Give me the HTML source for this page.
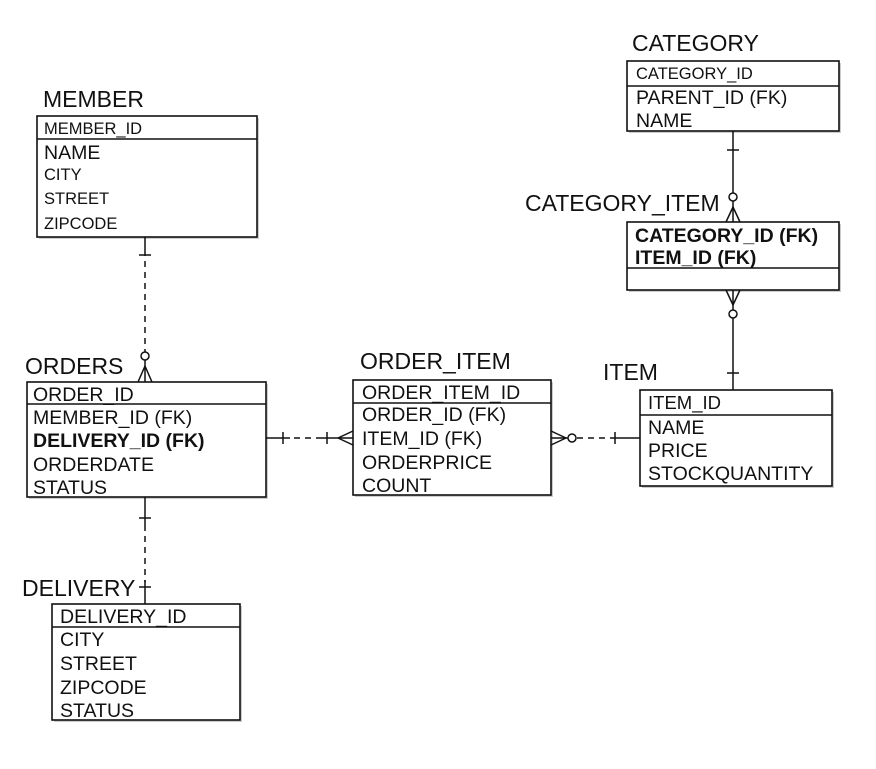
<!DOCTYPE html>
<html><head><meta charset="utf-8"><style>
html,body{margin:0;padding:0;background:#fff;}
svg{display:block;}
text{font-family:"Liberation Sans",Arial,sans-serif;fill:#111;}
.t{font-size:23px;}
.r{font-size:19.5px;}
.s{font-size:16.5px;}
.b{font-size:19.5px;font-weight:bold;}
.box{fill:#fff;stroke:#111;stroke-width:1.6;}
.ln{stroke:#111;stroke-width:1.5;fill:none;}
.d{stroke:#111;stroke-width:1.5;fill:none;stroke-dasharray:6,5;}
.sh{fill:#ccc;}
</style></head><body>
<svg width="876" height="769" viewBox="0 0 876 769">
<rect class="sh" x="39" y="118" width="220" height="121"/>
<rect class="sh" x="29" y="384" width="239" height="115"/>
<rect class="sh" x="54" y="606" width="188" height="116"/>
<rect class="sh" x="355" y="382" width="198" height="115"/>
<rect class="sh" x="642" y="392" width="192" height="96"/>
<rect class="sh" x="629" y="63" width="212" height="70"/>
<rect class="sh" x="629" y="224" width="212" height="68"/>

<text class="t" x="43" y="107">MEMBER</text>
<rect class="box" x="37" y="116" width="220" height="121"/>
<line class="ln" x1="37" y1="139" x2="257" y2="139"/>
<text class="s" x="44" y="134">MEMBER_ID</text>
<text class="r" x="44" y="159">NAME</text>
<text class="s" x="44" y="180">CITY</text>
<text class="s" x="44" y="204">STREET</text>
<text class="s" x="44" y="229">ZIPCODE</text>

<text class="t" x="25" y="374">ORDERS</text>
<rect class="box" x="27" y="382" width="239" height="115"/>
<line class="ln" x1="27" y1="404" x2="266" y2="404"/>
<text class="r" x="33" y="401">ORDER_ID</text>
<text class="r" x="33" y="424">MEMBER_ID (FK)</text>
<text class="b" x="33" y="447">DELIVERY_ID (FK)</text>
<text class="r" x="33" y="471">ORDERDATE</text>
<text class="r" x="33" y="494">STATUS</text>

<text class="t" x="22" y="596">DELIVERY</text>
<rect class="box" x="52" y="604" width="188" height="116"/>
<line class="ln" x1="52" y1="627" x2="240" y2="627"/>
<text class="r" x="60" y="623">DELIVERY_ID</text>
<text class="r" x="60" y="646">CITY</text>
<text class="r" x="60" y="670">STREET</text>
<text class="r" x="60" y="694">ZIPCODE</text>
<text class="r" x="60" y="717">STATUS</text>

<text class="t" x="360" y="369">ORDER_ITEM</text>
<rect class="box" x="353" y="380" width="198" height="115"/>
<line class="ln" x1="353" y1="403" x2="551" y2="403"/>
<text class="r" x="362" y="399">ORDER_ITEM_ID</text>
<text class="r" x="362" y="421">ORDER_ID (FK)</text>
<text class="r" x="362" y="445">ITEM_ID (FK)</text>
<text class="r" x="362" y="469">ORDERPRICE</text>
<text class="r" x="362" y="492">COUNT</text>

<text class="t" x="603" y="380">ITEM</text>
<rect class="box" x="640" y="390" width="192" height="96"/>
<line class="ln" x1="640" y1="415" x2="832" y2="415"/>
<text class="r" x="648" y="409" style="font-size:18.5px">ITEM_ID</text>
<text class="r" x="648" y="434">NAME</text>
<text class="r" x="648" y="457">PRICE</text>
<text class="r" x="648" y="480">STOCKQUANTITY</text>

<text class="t" x="632" y="51">CATEGORY</text>
<rect class="box" x="627" y="61" width="212" height="70"/>
<line class="ln" x1="627" y1="86" x2="839" y2="86"/>
<text class="s" x="636" y="79">CATEGORY_ID</text>
<text class="r" x="636" y="104">PARENT_ID (FK)</text>
<text class="r" x="636" y="127">NAME</text>

<text class="t" x="525" y="211">CATEGORY_ITEM</text>
<rect class="box" x="627" y="222" width="212" height="68"/>
<line class="ln" x1="627" y1="268" x2="839" y2="268"/>
<text class="b" x="635" y="242">CATEGORY_ID (FK)</text>
<text class="b" x="635" y="264">ITEM_ID (FK)</text>

<line class="ln" x1="145" y1="237" x2="145" y2="250"/>
<line class="d" x1="145" y1="250" x2="145" y2="352"/>
<line class="ln" x1="139" y1="255" x2="151" y2="255"/>
<circle class="ln" cx="145" cy="356" r="4"/>
<line class="ln" x1="145" y1="360" x2="145" y2="382"/>
<line class="ln" x1="145" y1="366" x2="138" y2="382"/>
<line class="ln" x1="145" y1="366" x2="152" y2="382"/>

<line class="ln" x1="145" y1="497" x2="145" y2="525"/>
<line class="ln" x1="139" y1="518" x2="151" y2="518"/>
<line class="d" x1="145" y1="525" x2="145" y2="582"/>
<line class="ln" x1="145" y1="580" x2="145" y2="604"/>
<line class="ln" x1="139" y1="587" x2="151" y2="587"/>

<line class="ln" x1="266" y1="438" x2="290" y2="438"/>
<line class="ln" x1="283" y1="432" x2="283" y2="444"/>
<line class="d" x1="294" y1="438" x2="322" y2="438"/>
<line class="ln" x1="322" y1="438" x2="353" y2="438"/>
<line class="ln" x1="327" y1="432" x2="327" y2="444"/>
<line class="ln" x1="338" y1="438" x2="353" y2="431"/>
<line class="ln" x1="338" y1="438" x2="353" y2="445"/>

<line class="ln" x1="551" y1="438" x2="568" y2="438"/>
<line class="ln" x1="551" y1="431" x2="566" y2="438"/>
<line class="ln" x1="551" y1="445" x2="566" y2="438"/>
<circle class="ln" cx="572" cy="438" r="4"/>
<line class="d" x1="577" y1="438" x2="612" y2="438"/>
<line class="ln" x1="612" y1="438" x2="640" y2="438"/>
<line class="ln" x1="615" y1="432" x2="615" y2="444"/>

<line class="ln" x1="733" y1="131" x2="733" y2="193"/>
<line class="ln" x1="727" y1="150" x2="739" y2="150"/>
<circle class="ln" cx="733" cy="197" r="4"/>
<line class="ln" x1="733" y1="201" x2="733" y2="222"/>
<line class="ln" x1="733" y1="207" x2="726" y2="222"/>
<line class="ln" x1="733" y1="207" x2="740" y2="222"/>

<line class="ln" x1="733" y1="290" x2="733" y2="310"/>
<line class="ln" x1="726" y1="290" x2="733" y2="305"/>
<line class="ln" x1="740" y1="290" x2="733" y2="305"/>
<circle class="ln" cx="733" cy="314" r="4"/>
<line class="ln" x1="733" y1="318" x2="733" y2="390"/>
<line class="ln" x1="727" y1="373" x2="739" y2="373"/>
</svg>
</body></html>
